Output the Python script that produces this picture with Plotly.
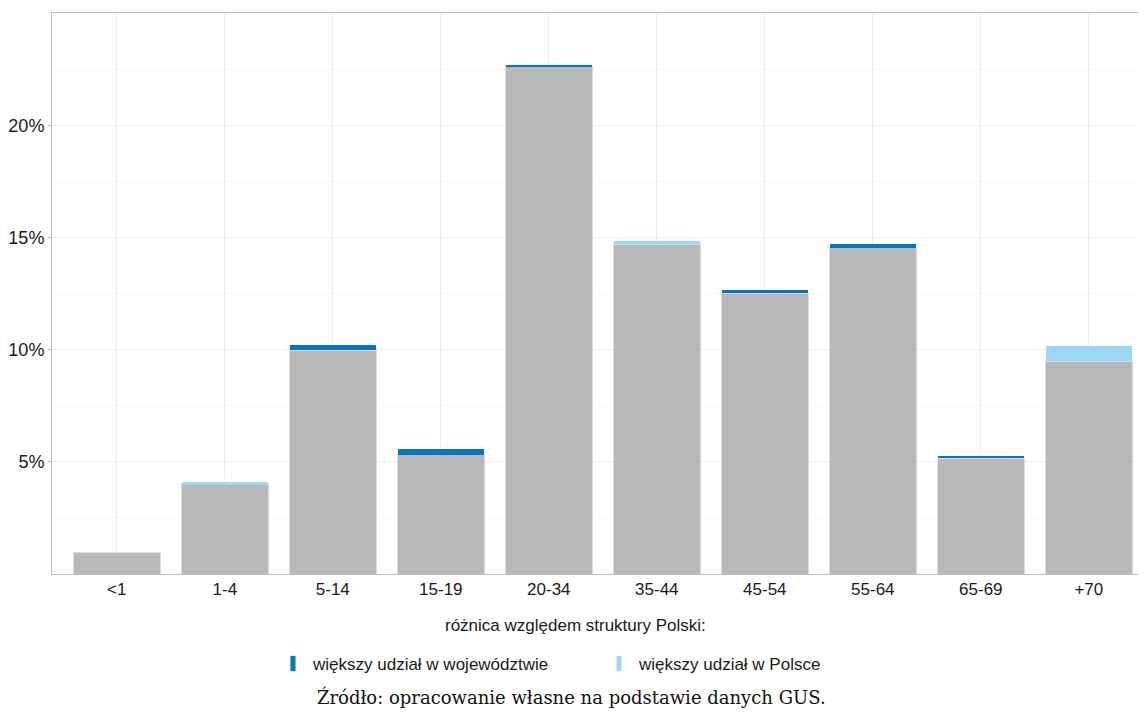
import numpy as np
import plotly.graph_objects as go

categories = ["<1", "1-4", "5-14", "15-19", "20-34", "35-44", "45-54", "55-64", "65-69", "+70"]
region_share = [0.97, 4.00, 10.20, 5.59, 22.70, 14.69, 12.64, 14.69, 5.25, 9.48]
poland_share = [0.97, 4.08, 9.97, 5.32, 22.62, 14.82, 12.52, 14.55, 5.15, 10.16]
y_ticks = [5, 10, 15, 20]
y_tick_labels = ["5%", "10%", "15%", "20%"]

legend_title = "różnica względem struktury Polski:"
name_region = "większy udział w województwie"
name_poland = "większy udział w Polsce"
caption = "Źródło: opracowanie własne na podstawie danych GUS."

GRAY = "#b7b8ba"
DARK = "#0077c0"
LIGHT = "#99d8fa"

r = np.array(region_share)
p = np.array(poland_share)
base = np.minimum(r, p)
more_region = np.clip(r - p, 0, None)
more_poland = np.clip(p - r, 0, None)

fig = go.Figure()
fig.add_trace(go.Bar(x=categories, y=base, marker=dict(color=GRAY, line=dict(color="#dcdcdc", width=1)),
                     showlegend=False, hoverinfo="skip"))
fig.add_trace(go.Bar(x=categories, y=more_region, name=name_region, legendgroup="reg", showlegend=False,
                     marker=dict(color=DARK, line=dict(width=0))))
fig.add_trace(go.Bar(x=categories, y=more_poland, name=name_poland, legendgroup="pol", showlegend=False,
                     marker=dict(color=LIGHT, line=dict(width=0))))
# legend entries with narrow vertical keys (as in the reference)
for nm, col, grp in [(name_region, DARK, "reg"), (name_poland, LIGHT, "pol")]:
    fig.add_trace(go.Scatter(x=[None], y=[None], mode="markers", name=nm, legendgroup=grp,
                             marker=dict(symbol="line-ns", size=11, color=col,
                                         line=dict(color=col, width=5))))

OFF = 8  # page body margin
W, H = 1146 - OFF, 713 - OFF
PL, PT, PB = 52, 13, 574
L, T = PL - OFF, PT - OFF
B = H - (PB - OFF)
plot_h = H - T - B
plot_w = W - L
step = 108.0

def py(px):
    return (PB - px) / plot_h

def px_x(px):
    return (px - PL) / plot_w

fig.update_layout(
    width=W, height=H,
    margin=dict(l=L, r=0, t=T, b=B),
    barmode="stack",
    bargap=0.2,
    plot_bgcolor="white",
    paper_bgcolor="white",
    font=dict(family="Liberation Sans, Arial, sans-serif", size=17, color="#1a1a1a"),
    legend=dict(
        orientation="h",
        traceorder="normal",
        x=px_x(273), xanchor="left",
        y=py(646), yanchor="top",
        font=dict(size=17),
        entrywidth=281,
        itemwidth=30,
        tracegroupgap=0,
    ),
    xaxis=dict(
        type="category",
        range=[-0.6, -0.6 + plot_w / step],
        showgrid=True, gridcolor="#eeeeee", gridwidth=1,
        showline=True, linecolor="#bdbdbd", linewidth=1, mirror=True,
        ticks="", tickfont=dict(size=17, color="#1a1a1a"),
        zeroline=False,
    ),
    yaxis=dict(
        range=[0, 25],
        tickvals=y_ticks, ticktext=y_tick_labels,
        showgrid=True, gridcolor="#eeeeee", gridwidth=1,
        minor=dict(dtick=2.5, tick0=0, showgrid=True, gridcolor="#f6f6f6", gridwidth=1),
        showline=True, linecolor="#bdbdbd", linewidth=1, mirror=True,
        ticks="outside", ticklen=3, tickcolor="#bdbdbd",
        tickfont=dict(size=18, color="#1a1a1a"),
        zeroline=False,
    ),
)

fig.add_annotation(
    text=legend_title, xref="paper", yref="paper",
    x=px_x(575), y=py(625), xanchor="center", yanchor="middle",
    showarrow=False, font=dict(size=17, color="#1a1a1a"),
)

fig.add_annotation(
    text=caption, xref="paper", yref="paper",
    x=px_x(571), y=py(697), xanchor="center", yanchor="middle",
    showarrow=False,
    font=dict(family="DejaVu Serif, serif", size=18, color="#111111"),
)

fig.write_html("out.html")
